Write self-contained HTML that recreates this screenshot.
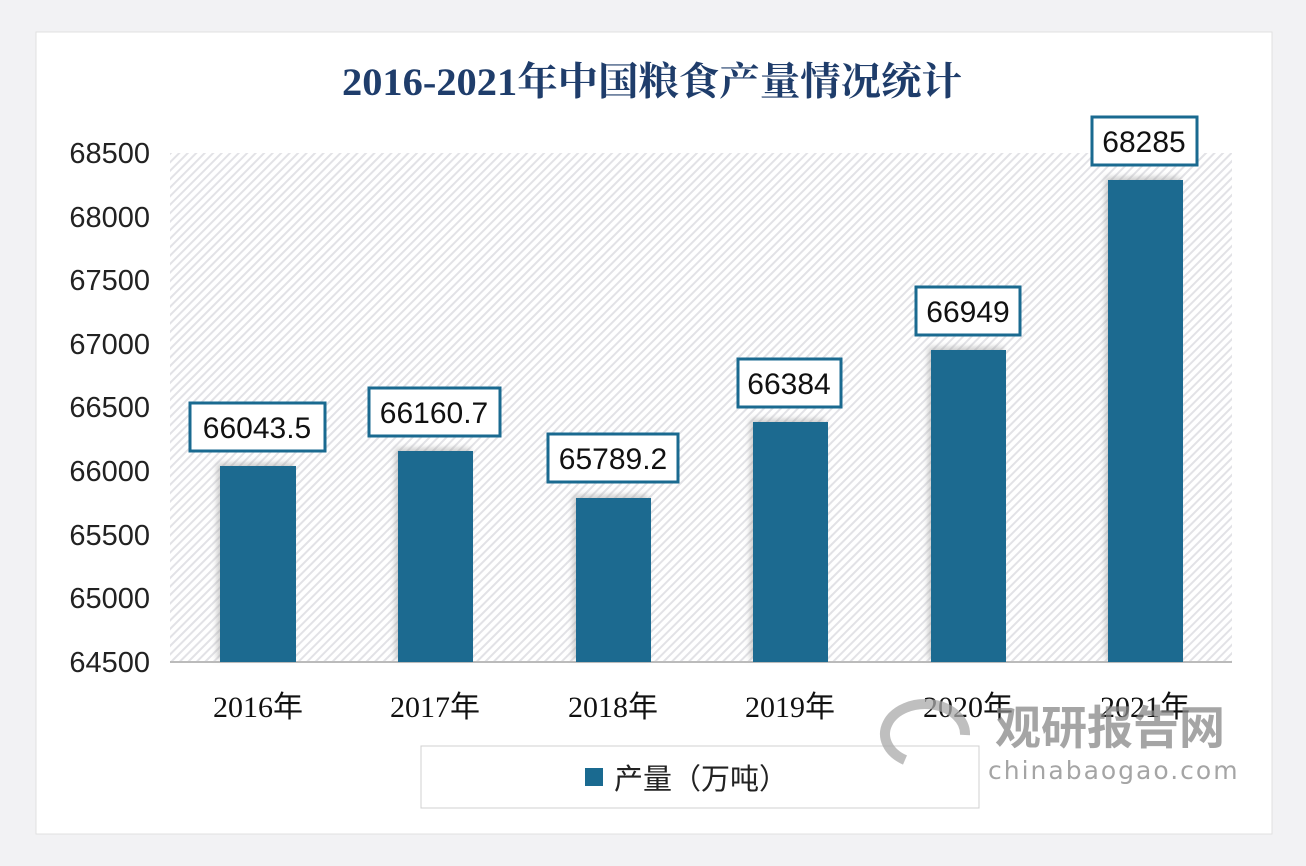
<!DOCTYPE html>
<html><head><meta charset="utf-8"><style>
body{margin:0;background:#f2f2f4;}
svg{display:block}
</style></head><body>
<svg width="1306" height="866" xmlns="http://www.w3.org/2000/svg">
<defs>
<pattern id="h" width="6" height="6" patternUnits="userSpaceOnUse" patternTransform="rotate(45)">
<rect width="6" height="6" fill="#fff"/><rect width="2" height="6" fill="#e2e2e6"/>
</pattern>
<filter id="s" x="-20%" y="-20%" width="140%" height="140%"><feDropShadow dx="-3" dy="-3" stdDeviation="3" flood-color="#999" flood-opacity="0.5"/></filter>
</defs>
<rect x="0" y="0" width="1306" height="866" fill="#f2f2f4"/>
<rect x="36" y="32" width="1236" height="802" fill="#fff" stroke="#e0e0e0"/>
<text x="652" y="95" text-anchor="middle" font-family="Liberation Serif, Noto Serif CJK SC, serif" font-size="39" font-weight="bold" fill="#1f3d6b" textLength="620" lengthAdjust="spacingAndGlyphs">2016-2021年中国粮食产量情况统计</text>
<rect x="170" y="153" width="1062" height="509" fill="url(#h)"/>
<line x1="170" y1="662" x2="1232" y2="662" stroke="#bbb" stroke-width="2"/>
<g font-family="Liberation Sans, sans-serif" font-size="29" fill="#222" text-anchor="end">
<text x="150" y="163">68500</text><text x="150" y="227">68000</text><text x="150" y="290">67500</text><text x="150" y="354">67000</text><text x="150" y="417">66500</text><text x="150" y="481">66000</text><text x="150" y="545">65500</text><text x="150" y="608">65000</text><text x="150" y="672">64500</text>
</g>
<g fill="#1a6a90" filter="url(#s)">
<rect x="220" y="466" width="76" height="196"/>
<rect x="398" y="451" width="75" height="211"/>
<rect x="576" y="498" width="75" height="164"/>
<rect x="753" y="422" width="75" height="240"/>
<rect x="931" y="350" width="75" height="312"/>
<rect x="1108" y="180" width="75" height="482"/>
</g>
<g fill="#fff" stroke="#1a6a90" stroke-width="3">
<rect x="190" y="403" width="135" height="48"/>
<rect x="369" y="388" width="131" height="48"/>
<rect x="548" y="434" width="130" height="48"/>
<rect x="738" y="359" width="103" height="48"/>
<rect x="916" y="287" width="104" height="48"/>
<rect x="1092" y="117" width="105" height="48"/>
</g>
<g font-family="Liberation Sans, sans-serif" font-size="30" fill="#111" text-anchor="middle">
<text x="257" y="438">66043.5</text>
<text x="434" y="423">66160.7</text>
<text x="613" y="469">65789.2</text>
<text x="789" y="394">66384</text>
<text x="968" y="322">66949</text>
<text x="1144" y="152">68285</text>
</g>
<g font-family="Liberation Serif, Noto Sans CJK SC, sans-serif" font-size="30" fill="#111" text-anchor="middle">
<text x="258" y="717">2016年</text><text x="435" y="717">2017年</text><text x="613" y="717">2018年</text><text x="790" y="717">2019年</text><text x="968" y="717">2020年</text><text x="1145" y="717">2021年</text>
</g>
<rect x="421" y="746" width="558" height="62" fill="#fff" stroke="#d0d0d0"/>
<rect x="585" y="768" width="18" height="18" fill="#1a6a90"/>
<text x="614" y="789" font-family="Liberation Sans, Noto Sans CJK SC, sans-serif" font-size="29" fill="#222">产量（万吨）</text>
<g opacity="0.75">
<path d="M905 760 a40 30 0 1 1 60 -25" fill="none" stroke="#aaa" stroke-width="10"/>
<text x="995" y="744" font-family="Noto Sans CJK SC, sans-serif" font-weight="bold" font-size="46" fill="#888">观研报告网</text>
<text x="988" y="779" font-family="DejaVu Sans, sans-serif" font-size="25" fill="#888" letter-spacing="2">chinabaogao.com</text>
</g>
</svg>
</body></html>
